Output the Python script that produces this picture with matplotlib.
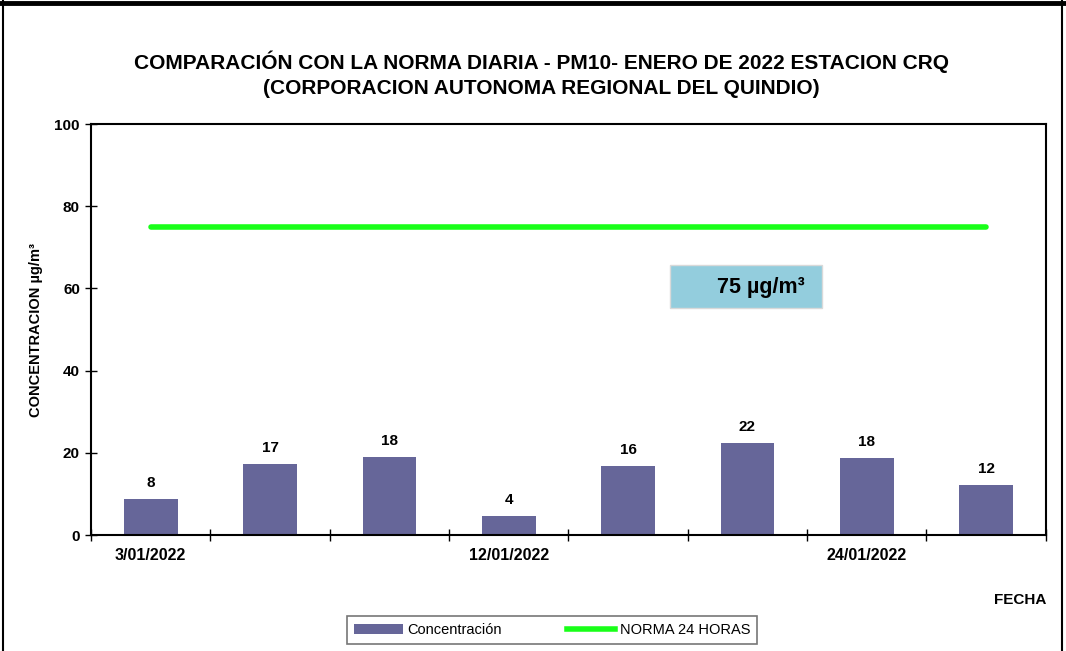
import matplotlib
matplotlib.use("Agg")
import matplotlib.pyplot as plt
from matplotlib.patches import Rectangle, Patch
from matplotlib.lines import Line2D
import numpy as np

# data
fechas = ["3/01/2022", "6/01/2022", "9/01/2022", "12/01/2022",
          "15/01/2022", "18/01/2022", "24/01/2022", "27/01/2022"]
concentracion = [8.8, 17.3, 18.9, 4.6, 16.8, 22.4, 18.7, 12.2]
norma = [75, 75, 75, 75, 75, 75, 75, 75]
etiquetas_x = [0, 3, 6]   # only every third date is labelled

plt.rcParams['font.family'] = ['Liberation Sans', 'DejaVu Sans']

fig = plt.figure(figsize=(10.66, 6.51), dpi=100)
ax = fig.add_axes([0.0854, 0.178, 0.8956, 0.6315])

x = np.arange(len(fechas))
bars = ax.bar(x, concentracion, width=0.45, color='#666699', zorder=2)
ax.plot(x, norma, color='#19FF19', lw=4, solid_capstyle='round', zorder=3)

for xi, v in zip(x, concentracion):
    ax.text(xi, v + 2.2, str(int(v)), ha='center', va='bottom',
            fontsize=11, fontweight='bold')

ax.set_xlim(-0.5, len(fechas) - 0.5)
ax.set_ylim(0, 100)
ax.set_yticks([0, 20, 40, 60, 80, 100])
for lbl in ax.get_yticklabels():
    lbl.set_fontweight('bold')
    lbl.set_fontsize(11)

ax.set_xticks(etiquetas_x)
ax.set_xticklabels([fechas[i] for i in etiquetas_x], fontsize=11.5, fontweight='bold')
ax.tick_params(axis='x', which='major', length=0, pad=9)
ax.set_xticks(np.arange(-0.5, len(fechas)), minor=True)
ax.tick_params(axis='x', which='minor', length=8, direction='inout', width=1)
ax.tick_params(axis='y', length=8, width=1, direction='inout', pad=4)

for s in ax.spines.values():
    s.set_linewidth(1.5)

ax.set_ylabel('CONCENTRACION µg/m³', fontsize=10.5, fontweight='bold', labelpad=8)

# 75 µg/m³ annotation box
ax.add_patch(Rectangle((0.606, 0.552), 0.160, 0.105, transform=ax.transAxes,
                       facecolor='#93CDDD', edgecolor='#D9D9D9', lw=1, zorder=4))
ax.text(0.702, 0.603, '75 µg/m³', transform=ax.transAxes, ha='center', va='center',
        fontsize=15.5, fontweight='bold', zorder=5)

fig.text(0.508, 0.886, 'COMPARACIÓN CON LA NORMA DIARIA - PM10- ENERO DE 2022 ESTACION CRQ\n'
         '(CORPORACION AUTONOMA REGIONAL DEL QUINDIO)',
         ha='center', va='center', fontsize=15, fontweight='bold', linespacing=1.35)

fig.text(0.957, 0.078, 'FECHA', ha='center', va='center', fontsize=11, fontweight='bold')

handles = [Patch(facecolor='#666699', label='Concentración'),
           Line2D([0], [0], color='#19FF19', lw=4, label='NORMA 24 HORAS')]
leg = fig.legend(handles=handles, loc='center', bbox_to_anchor=(0.518, 0.032), ncol=2,
                 fontsize=10.5, frameon=True, fancybox=False, edgecolor='#555555',
                 handlelength=3.3, handleheight=0.6, handletextpad=0.3,
                 columnspacing=4.5, borderpad=0.5, borderaxespad=0)
leg.get_frame().set_linewidth(1.2)

# outer border of the chart area
fig.add_artist(Line2D([0, 1], [0.995, 0.995], color='black', lw=3.5, transform=fig.transFigure))
fig.add_artist(Line2D([0.003, 0.003], [0, 1], color='black', lw=1.5, transform=fig.transFigure))
fig.add_artist(Line2D([0.996, 0.996], [0, 1], color='black', lw=1.5, transform=fig.transFigure))

fig.savefig('out.png', dpi=100)
